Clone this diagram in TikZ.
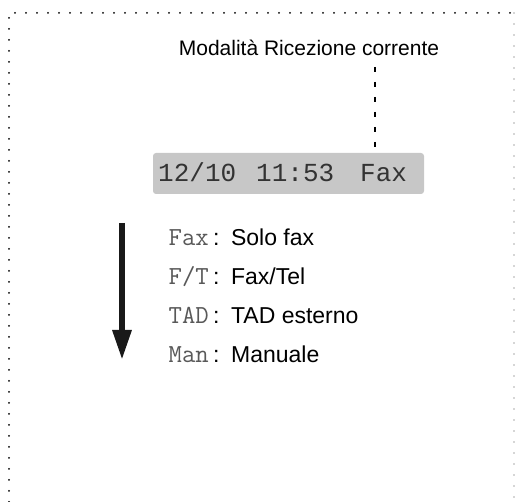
\documentclass[tikz,border=0pt]{standalone}
\usepackage{fontspec}
\setmainfont{Liberation Sans}
\newfontfamily\lcdfont{Liberation Mono}
\usetikzlibrary{arrows.meta,positioning}

\begin{document}
\begin{tikzpicture}[x=1pt,y=-1pt,
    cornice/.style={line width=2pt,dash pattern=on 0pt off 11pt,line cap=round},
    lcdtxt/.style={font=\fontsize{26}{26}\selectfont\lcdfont,text=black!80,inner sep=0pt,anchor=base west},
    modo/.style={font=\fontsize{26}{26}\selectfont\ttfamily,text=black!65,inner sep=0pt,anchor=base east},
    desc/.style={font=\fontsize{23}{23}\selectfont,inner sep=0pt,anchor=base west,xshift=4pt}]
    \useasboundingbox (0,0) rectangle (515,502);
    % cornice tratteggiata
    \draw[cornice] (9,502)--(9,13)--(514,13);
    \draw[cornice,line width=1.2pt,black!70] (514,13)--(514,502);
    % display
    \node[fill=black!22,rounded corners=3pt,minimum width=271pt,minimum height=41pt] (lcd) at (288.5,173.5) {};
    \node[lcdtxt] (data) at (158,182) {12/10};
    \node[lcdtxt] (ora) at (256,182) {11:53};
    \node[lcdtxt] (fax) at (360,182) {Fax};
    \node[font=\fontsize{21}{21}\selectfont,inner sep=0pt,anchor=base] (titolo) at (309,56) {Modalità Ricezione corrente};
    \coordinate (capo) at (375,67);
    \draw[line width=2pt,dash pattern=on 5pt off 10pt] (capo) -- (capo |- lcd.north);
    % freccia
    \coordinate (a0) at (122,223);
    \coordinate (a1) at (122,360);
    \draw[line width=6pt,black!90,-{Triangle[length=30pt,width=18pt]}] (a0) -- (a1);
    % modalita
    \node[modo] (m1) at (209,246) {Fax};
    \node[desc] (d1) at (m1.base east) {:\enspace Solo fax};
    \node[modo] (m2) at (209,285) {F/T};
    \node[desc] (d2) at (m2.base east) {:\enspace Fax/Tel};
    \node[modo] (m3) at (209,324) {TAD};
    \node[desc] (d3) at (m3.base east) {:\enspace TAD esterno};
    \node[modo] (m4) at (209,363) {Man};
    \node[desc] (d4) at (m4.base east) {:\enspace Manuale};
\end{tikzpicture}
\end{document}
